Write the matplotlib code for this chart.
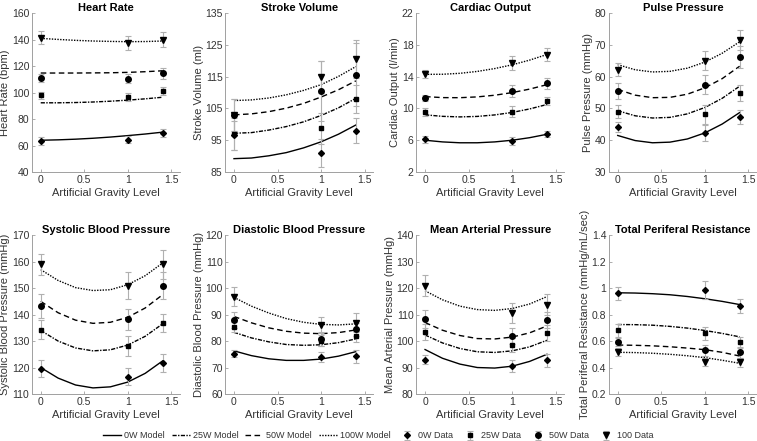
import matplotlib
matplotlib.use("Agg")
import matplotlib.pyplot as plt
import numpy as np

plt.rcParams["font.family"] = ["Liberation Sans", "DejaVu Sans"]

# artificial gravity levels
x_data = [0, 1, 1.4]
x_model = [0, 0.2, 0.4, 0.6, 0.8, 1.0, 1.2, 1.4]

model_labels = ["0W Model", "25W Model", "50W Model", "100W Model"]
data_labels = ["0W Data", "25W Data", "50W Data", "100 Data"]

# Heart rate (bpm), rows: 0W, 25W, 50W, 100W
hr_data = [[63.5, 64.5, 69.5], [98, 97, 101.5], [111, 110.5, 114.5], [141.5, 137.5, 140]]
hr_err = [[3, 2.5, 3], [2.5, 3, 3], [3, 3.5, 4], [5, 5.5, 5.5]]
hr_model = [[64, 64.3, 64.8, 65.5, 66.4, 67.5, 68.7, 70.1],
            [92.3, 92.3, 92.5, 92.9, 93.5, 94.3, 95.3, 96.5],
            [114.8, 114.8, 114.8, 114.9, 115.0, 115.3, 115.8, 116.5],
            [141, 140.2, 139.5, 139, 138.7, 138.5, 138.6, 139]]

# Stroke volume (ml)
sv_data = [[96.5, 91, 98], [97, 98.7, 108], [103, 110.5, 115.7], [103, 115, 120.5]]
sv_err = [[4.5, 4.5, 4], [5, 5, 4.5], [5, 9.5, 10], [5, 5, 6]]
sv_model = [[89.2, 89.4, 90.1, 91.1, 92.6, 94.5, 96.9, 99.8],
            [97.2, 97.4, 98.2, 99.3, 100.8, 102.8, 105.2, 108.2],
            [103, 103.3, 104, 105.1, 106.6, 108.6, 110.9, 113.7],
            [107.5, 107.7, 108.3, 109.3, 110.7, 112.5, 115.1, 118.2]]

# Cardiac output (l/min)
co_data = [[6.1, 5.9, 6.8], [9.5, 9.6, 11], [11.3, 12.2, 13.2], [14.4, 15.7, 16.8]]
co_err = [[0.4, 0.5, 0.4], [0.5, 0.7, 0.5], [0.4, 0.7, 0.7], [0.5, 0.9, 0.8]]
co_model = [[6.0, 5.79, 5.68, 5.68, 5.79, 6.0, 6.32, 6.75],
            [9.2, 9.01, 8.94, 9.0, 9.19, 9.5, 9.94, 10.5],
            [11.5, 11.37, 11.36, 11.46, 11.67, 12.0, 12.44, 13.0],
            [14.3, 14.31, 14.43, 14.67, 15.03, 15.5, 16.09, 16.8]]

# Pulse pressure (mmHg)
pp_data = [[44.2, 42.3, 47.3], [49, 48.2, 55], [55.5, 57.5, 66.3], [62.2, 65, 71.5]]
pp_err = [[1.5, 2.5, 2.2], [2, 3, 2.5], [2.5, 3, 3.5], [2, 3, 3.2]]
pp_model = [[41.5, 39.9, 39.2, 39.4, 40.4, 42.3, 45.1, 48.7],
            [49.3, 47.7, 47.0, 47.2, 48.3, 50.3, 53.2, 57.0],
            [56.0, 54.2, 53.4, 53.5, 54.5, 56.5, 59.4, 63.3],
            [63.8, 62.2, 61.5, 61.7, 62.7, 64.6, 67.4, 71.0]]

# Systolic blood pressure (mmHg)
sbp_data = [[119.5, 116.5, 121.8], [134.3, 128, 136.8], [143.3, 138.2, 151], [159, 151, 159]]
sbp_err = [[3.2, 3.2, 3.4], [3.6, 3.8, 3.4], [4.5, 4, 5], [4, 5, 5.5]]
sbp_model = [[120, 116.0, 113.4, 112.3, 112.7, 114.5, 117.8, 122.5],
             [134, 130.0, 127.4, 126.3, 126.7, 128.5, 131.8, 136.5],
             [145, 140.7, 137.9, 136.7, 137.1, 139.0, 142.5, 147.5],
             [157, 152.9, 150.2, 149.1, 149.4, 151.3, 154.7, 159.5]]

# Diastolic blood pressure (mmHg)
dbp_data = [[75.3, 74, 74.3], [85.3, 80.2, 81.8], [88, 80.8, 84.5], [96.8, 86, 87]]
dbp_err = [[1.5, 2, 2.5], [2, 2, 2], [3, 2.5, 2.5], [3.5, 3, 3.5]]
dbp_model = [[76.3, 74.5, 73.3, 72.7, 72.7, 73.2, 74.3, 76.0],
             [83.3, 81.2, 79.7, 78.7, 78.4, 78.6, 79.4, 80.8],
             [89.3, 86.9, 85.0, 83.7, 83.0, 82.8, 83.2, 84.2],
             [96.5, 93.2, 90.6, 88.5, 87.1, 86.3, 86.1, 86.5]]

# Mean arterial pressure (mmHg)
map_data = [[93, 90.5, 92.7], [103.5, 98.5, 103.2], [108.3, 101.8, 108], [121, 110.5, 113.8]]
map_err = [[1.8, 2.2, 2.5], [3, 2.5, 3], [3.5, 3, 3], [3.8, 3.8, 4]]
map_model = [[96.8, 93.5, 91.3, 90.0, 89.8, 90.5, 92.3, 95.0],
             [102.3, 99.3, 97.2, 95.95, 95.7, 96.3, 97.8, 100.3],
             [107, 104.1, 102.1, 100.95, 100.8, 101.5, 103.1, 105.7],
             [119, 115.6, 113.2, 111.9, 111.6, 112.3, 114.0, 116.8]]

# Total peripheral resistance (mmHg/mL/sec)
tpr_data = [[0.96, 0.985, 0.865], [0.68, 0.66, 0.59], [0.595, 0.53, 0.515], [0.52, 0.44, 0.44]]
tpr_err = [[0.05, 0.07, 0.05], [0.05, 0.05, 0.04], [0.03, 0.04, 0.04], [0.03, 0.03, 0.035]]
tpr_model = [[0.965, 0.963, 0.958, 0.95, 0.937, 0.92, 0.9, 0.876],
             [0.725, 0.724, 0.72, 0.711, 0.698, 0.68, 0.658, 0.632],
             [0.57, 0.568, 0.564, 0.557, 0.547, 0.535, 0.515, 0.487],
             [0.515, 0.513, 0.508, 0.5, 0.489, 0.475, 0.455, 0.432]]

panels = [
    ("Heart Rate", "Heart Rate (bpm)", hr_data, hr_err, hr_model, [40, 60, 80, 100, 120, 140, 160]),
    ("Stroke Volume", "Stroke Volume (ml)", sv_data, sv_err, sv_model, [85, 95, 105, 115, 125, 135]),
    ("Cardiac Output", "Cardiac Output (l/min)", co_data, co_err, co_model, [2, 6, 10, 14, 18, 22]),
    ("Pulse Pressure", "Pulse Pressure (mmHg)", pp_data, pp_err, pp_model, [30, 40, 50, 60, 70, 80]),
    ("Systolic Blood Pressure", "Systolic Blood Pressure (mmHg)", sbp_data, sbp_err, sbp_model,
     [110, 120, 130, 140, 150, 160, 170]),
    ("Diastolic Blood Pressure", "Diastolic Blood Pressure (mmHg)", dbp_data, dbp_err, dbp_model,
     [60, 70, 80, 90, 100, 110, 120]),
    ("Mean Arterial Pressure", "Mean Arterial Pressure (mmHg)", map_data, map_err, map_model,
     [80, 90, 100, 110, 120, 130, 140]),
    ("Total Periferal Resistance", "Total Periferal Resistance (mmHg/mL/sec)", tpr_data, tpr_err, tpr_model,
     [0.2, 0.4, 0.6, 0.8, 1.0, 1.2, 1.4]),
]

line_styles = ["-", (0, (3, 1, 1, 1)), (0, (4, 2.5)), (0, (1, 1))]
markers = ["D", "s", "o", "v"]
marker_sizes = [3.0, 3.0, 4.0, 4.0]

fig = plt.figure(figsize=(7.57, 4.41), dpi=100)

lefts = [0.0423, 0.2976, 0.55, 0.8045]
bottoms = [0.610, 0.1066]
width, height = 0.1955, 0.360

spine_col = "#a0a0a0"
text_col = "#333333"

model_handles = []
data_handles = []
for i, (title, ylabel, data, err, model, yticks) in enumerate(panels):
    ax = fig.add_axes([lefts[i % 4], bottoms[i // 4], width, height])
    for k in range(4):
        ln, = ax.plot(x_model, model[k], color="black", lw=1.0, linestyle=line_styles[k])
        eb = ax.errorbar(x_data, data[k], yerr=err[k], fmt=markers[k], color="black",
                         ms=marker_sizes[k], ecolor="#b0b0b0", elinewidth=0.8,
                         capsize=2, capthick=0.8)
        if i == 0:
            model_handles.append(ln)
            data_handles.append(eb)
    ax.set_xlim(-0.1, 1.6)
    ax.set_ylim(yticks[0], yticks[-1])
    ax.set_xticks([0, 0.5, 1, 1.5])
    ax.set_xticklabels(["0", "0.5", "1", "1.5"])
    ax.set_yticks(yticks)
    ax.set_yticklabels([f"{t:g}" for t in yticks])
    ax.tick_params(direction="in", length=2, width=0.6, labelsize=7.5,
                   colors=spine_col, labelcolor=text_col, pad=2)
    for s in ["top", "right"]:
        ax.spines[s].set_visible(False)
    for s in ["left", "bottom"]:
        ax.spines[s].set_color(spine_col)
        ax.spines[s].set_linewidth(0.7)
    ax.set_title(title, fontsize=8, fontweight="bold", pad=1.5)
    ax.set_xlabel("Artificial Gravity Level", fontsize=8, color=text_col, labelpad=2)
    ax.set_ylabel(ylabel, fontsize=8, color=text_col, labelpad=1)

fig.legend(model_handles + data_handles, model_labels + data_labels,
           loc="center", bbox_to_anchor=(0.5, 0.012), ncol=8, frameon=False,
           fontsize=6.5, handlelength=2.0, columnspacing=0.8, handletextpad=0.3,
           labelcolor=text_col)

fig.savefig("out.png", dpi=100)
